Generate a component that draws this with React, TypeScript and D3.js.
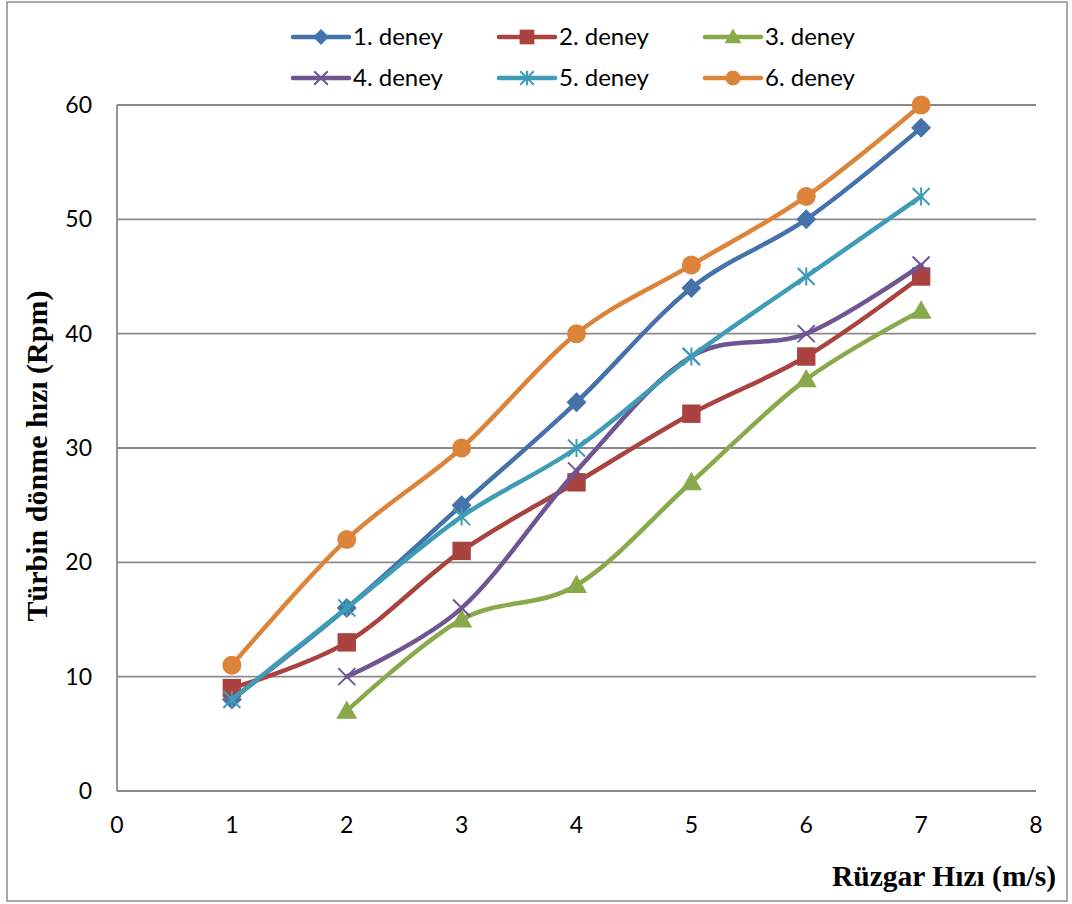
import React, { useEffect, useRef } from "react";
import * as d3 from "d3";

// Wind speed (m/s) along the x axis
const windSpeeds = [1, 2, 3, 4, 5, 6, 7];

// Turbine rotation speed (rpm) for each experiment; null = not measured
const deney1 = [8, 16, 25, 34, 44, 50, 58];
const deney2 = [9, 13, 21, 27, 33, 38, 45];
const deney3 = [null, 7, 15, 18, 27, 36, 42];
const deney4 = [null, 10, 16, 28, 38, 40, 46];
const deney5 = [8, 16, 24, 30, 38, 45, 52];
const deney6 = [11, 22, 30, 40, 46, 52, 60];

const seriesNames = ["1. deney", "2. deney", "3. deney", "4. deney", "5. deney", "6. deney"];
const seriesColors = ["#4572aa", "#aa4340", "#89a94b", "#6f5693", "#3f9cb6", "#dc843a"];
const seriesMarkers = ["diamond", "square", "triangle", "cross", "star", "circle"];

const xTicks = [0, 1, 2, 3, 4, 5, 6, 7, 8];
const yTicks = [0, 10, 20, 30, 40, 50, 60];

const yTitle = "Türbin dönme hızı (Rpm)";
const xTitle = "Rüzgar Hızı (m/s)";

const W = 1072;
const H = 904;
const plot = { left: 117, right: 1036, top: 105, bottom: 791 };
const tickFont = "Lato, 'Open Sans', sans-serif";
const titleFont = "'Liberation Serif', 'DejaVu Serif', serif";

function drawMarker(
  g: d3.Selection<SVGGElement, unknown, null, undefined>,
  kind: string,
  color: string,
  x: number,
  y: number,
  s: number
) {
  if (kind === "diamond") {
    g.append("path")
      .attr("d", `M${x},${y - s}L${x + s},${y}L${x},${y + s}L${x - s},${y}Z`)
      .attr("fill", color);
  } else if (kind === "square") {
    const h = s * 0.92;
    g.append("rect")
      .attr("x", x - h)
      .attr("y", y - h)
      .attr("width", 2 * h)
      .attr("height", 2 * h)
      .attr("fill", color);
  } else if (kind === "triangle") {
    const h = s * 1.05;
    g.append("path")
      .attr("d", `M${x},${y - h}L${x + h},${y + h * 0.75}L${x - h},${y + h * 0.75}Z`)
      .attr("fill", color);
  } else if (kind === "circle") {
    g.append("circle").attr("cx", x).attr("cy", y).attr("r", s * 0.95).attr("fill", color);
  } else if (kind === "cross" || kind === "star") {
    const h = s * 0.85;
    const p = d3.path();
    p.moveTo(x - h, y - h);
    p.lineTo(x + h, y + h);
    p.moveTo(x - h, y + h);
    p.lineTo(x + h, y - h);
    if (kind === "star") {
      p.moveTo(x, y - h * 1.05);
      p.lineTo(x, y + h * 1.05);
    }
    g.append("path")
      .attr("d", p.toString())
      .attr("stroke", color)
      .attr("stroke-width", 2)
      .attr("fill", "none");
  }
}

export default function App() {
  const ref = useRef<SVGSVGElement | null>(null);

  useEffect(() => {
    const svg = d3.select(ref.current);
    svg.selectAll("*").remove();

    const x = d3.scaleLinear().domain([0, 8]).range([plot.left, plot.right]);
    const y = d3.scaleLinear().domain([0, 60]).range([plot.bottom, plot.top]);

    // outer frame
    svg
      .append("rect")
      .attr("x", 7)
      .attr("y", 2)
      .attr("width", 1060)
      .attr("height", 899)
      .attr("fill", "white")
      .attr("stroke", "#8c8c8c")
      .attr("stroke-width", 1.5);

    // horizontal gridlines
    svg
      .append("g")
      .selectAll("line")
      .data(yTicks)
      .join("line")
      .attr("x1", plot.left)
      .attr("x2", plot.right)
      .attr("y1", (d) => y(d))
      .attr("y2", (d) => y(d))
      .attr("stroke", "#8a8a8a")
      .attr("stroke-width", 1.8);

    // vertical axis line
    svg
      .append("line")
      .attr("x1", plot.left)
      .attr("x2", plot.left)
      .attr("y1", y(60))
      .attr("y2", y(0))
      .attr("stroke", "#8a8a8a")
      .attr("stroke-width", 1.8);

    // y tick labels
    svg
      .append("g")
      .selectAll("text")
      .data(yTicks)
      .join("text")
      .attr("x", 92)
      .attr("y", (d) => y(d))
      .attr("dy", "0.35em")
      .attr("text-anchor", "end")
      .attr("font-family", tickFont)
      .attr("font-size", 23)
      .attr("fill", "#000")
      .text((d) => String(d));

    // x tick labels
    svg
      .append("g")
      .selectAll("text")
      .data(xTicks)
      .join("text")
      .attr("x", (d) => x(d))
      .attr("y", 825)
      .attr("dy", "0.35em")
      .attr("text-anchor", "middle")
      .attr("font-family", tickFont)
      .attr("font-size", 23)
      .attr("fill", "#000")
      .text((d) => String(d));

    // axis titles
    svg
      .append("text")
      .attr("transform", `translate(47,456) rotate(-90)`)
      .attr("text-anchor", "middle")
      .attr("font-family", titleFont)
      .attr("font-weight", "bold")
      .attr("font-size", 30)
      .attr("fill", "#000")
      .text(yTitle);

    svg
      .append("text")
      .attr("x", 1056)
      .attr("y", 886)
      .attr("text-anchor", "end")
      .attr("font-family", titleFont)
      .attr("font-weight", "bold")
      .attr("font-size", 29.5)
      .attr("fill", "#000")
      .text(xTitle);

    // series
    const allSeries = [deney1, deney2, deney3, deney4, deney5, deney6];
    const line = d3
      .line<[number, number]>()
      .x((d) => x(d[0]))
      .y((d) => y(d[1]))
      .curve(d3.curveCatmullRom.alpha(0));

    allSeries.forEach((vals, i) => {
      const pts: [number, number][] = [];
      vals.forEach((v, j) => {
        if (v !== null) pts.push([windSpeeds[j], v as number]);
      });
      const g = svg.append("g");
      g.append("path")
        .attr("d", line(pts) || "")
        .attr("fill", "none")
        .attr("stroke", seriesColors[i])
        .attr("stroke-width", 4.5)
        .attr("stroke-linejoin", "round")
        .attr("stroke-linecap", "round");
      pts.forEach((p) => drawMarker(g, seriesMarkers[i], seriesColors[i], x(p[0]), y(p[1]), 10));
    });

    // legend: 3 columns x 2 rows
    const legend = svg.append("g");
    seriesNames.forEach((name, i) => {
      const col = i % 3;
      const row = Math.floor(i / 3);
      const lx = 293 + col * 206;
      const ly = 37 + row * 41;
      const g = legend.append("g");
      g.append("line")
        .attr("x1", lx)
        .attr("x2", lx + 56)
        .attr("y1", ly)
        .attr("y2", ly)
        .attr("stroke", seriesColors[i])
        .attr("stroke-width", 4.5)
        .attr("stroke-linecap", "round");
      drawMarker(g, seriesMarkers[i], seriesColors[i], lx + 28, ly, 8);
      g.append("text")
        .attr("x", lx + 60)
        .attr("y", ly)
        .attr("dy", "0.35em")
        .attr("font-family", tickFont)
        .attr("font-size", 24)
        .attr("fill", "#000")
        .text(name);
    });
  }, []);

  return (
    <svg
      ref={ref}
      width={W}
      height={H}
      style={{ position: "absolute", left: 0, top: 0, background: "white" }}
    />
  );
}
